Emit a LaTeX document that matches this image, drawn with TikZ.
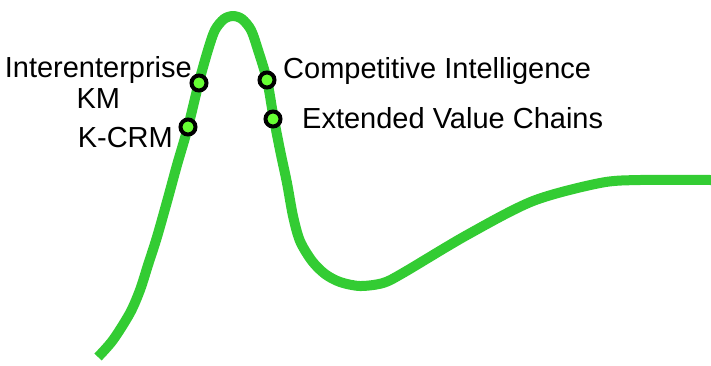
\documentclass[tikz,border=0pt]{standalone}
\usepackage{fontspec}
\setmainfont{Liberation Sans}
\usepackage{xcolor}
\usetikzlibrary{positioning,calc}

\definecolor{hypegreen}{RGB}{51,204,51}
\definecolor{dotgreen}{RGB}{102,255,51}

\begin{document}
\begin{tikzpicture}[
    x=1pt, y=-1pt,
    curve/.style={draw=hypegreen, line width=10pt, line join=round},
    marker/.style={circle, draw=black, fill=dotgreen, line width=4pt, minimum size=15pt, inner sep=0pt},
    lbl/.style={font=\fontsize{29}{31}\selectfont, inner sep=0pt, align=center}
]
\useasboundingbox (0,0) rectangle (711,365);

% hype curve
\draw [curve] plot [smooth, tension=0.5] coordinates {
    (98,357) (113,340) (130,313) (140,290) (148,265) (157,237) (168,198)
    (177,165) (188,127) (199,82) (208,50) (215,30) (224,19) (233,16)
    (242,19) (251,30) (258,50) (267,80) (273,114) (280,150) (287,183)
    (293,216) (300,241) (312,261) (325,274) (340,282) (360,286) (383,283)
    (403,273) (467,235) (533,201) (600,183) (640,180) (711,180)};

% markers
\node [marker] (ikm) at (199,83) {};
\node [marker] (kcrm) at (188,127) {};
\node [marker] (ci) at (267,80) {};
\node [marker] (evc) at (273,119) {};

% labels
\node [lbl, anchor=base east] (ikmtext) at ([shift={(-7,25)}]ikm.center) {Interenterprise\\KM};
\node [lbl, anchor=base east] (kcrmtext) at ([shift={(-15,20)}]kcrm.center) {K-CRM};
\node [lbl, anchor=base west] (citext) at ([shift={(16,-2)}]ci.center) {Competitive Intelligence};
\node [lbl, anchor=base west] (evctext) at ([shift={(29,9)}]evc.center) {Extended Value Chains};

\end{tikzpicture}
\end{document}
